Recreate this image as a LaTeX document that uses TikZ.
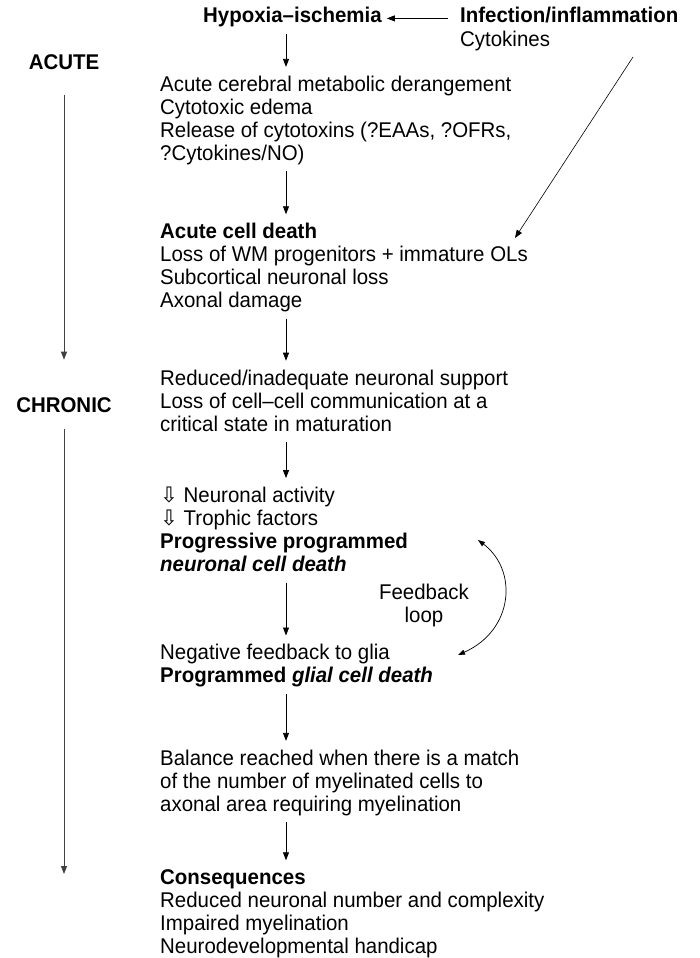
\documentclass[tikz,border=0pt]{standalone}
\usepackage{fontspec}
\setmainfont[FakeStretch=0.96]{Liberation Sans}
\newfontfamily\symfont{DejaVu Sans}
\usetikzlibrary{arrows.meta, positioning}

\newcommand{\hollowdown}{{\symfont\char"21E9}}

\begin{document}
\begin{tikzpicture}[
    x=1pt, y=-1pt,
    node distance=50pt,
    txt/.style={inner sep=0pt, anchor=north west, align=left,
                font=\fontsize{21.3}{23}\selectfont},
    head/.style={inner sep=0pt, anchor=base, font=\fontsize{21.3}{23}\selectfont\bfseries},
    arrow/.style={-{Triangle[length=8pt, width=6pt]}, line width=0.8pt,
                  shorten <=4pt, shorten >=8pt},
    timeline/.style={-{Triangle[length=8pt, width=6pt]}, line width=0.8pt, draw=black!75},
    loopline/.style={{Triangle[length=7pt, width=5pt]}-{Triangle[length=7pt, width=5pt]},
                     line width=0.7pt}
]
\useasboundingbox (0,0) rectangle (700,958);

% axis of the main column
\coordinate (ax) at (286,0);

% top causes
\node[head, anchor=base west] (hyp) at (203,23) {\strut Hypoxia--ischemia};
\node[head, anchor=base west] (inf) at (460,23) {\strut Infection/inflammation};
\node[txt, below=0pt of inf.south west, anchor=north west] (cyt) {\strut Cytokines\strut};

% stages
\node[head] (acute) at (64,70) {\strut ACUTE};
\node[head] (chronic) at (64,412) {\strut CHRONIC};

% main column
\node[txt] (b1) at (160,74.9) {\strut Acute cerebral metabolic derangement\\
    Cytotoxic edema\\
    Release of cytotoxins (?EAAs, ?OFRs,\\
    ?Cytokines/NO)\strut};
\node[txt, below=55pt of b1.south west, anchor=north west] (b2) {\strut\textbf{Acute cell death}\\
    Loss of WM progenitors + immature OLs\\
    Subcortical neuronal loss\\
    Axonal damage\strut};
\node[txt, below=54pt of b2.south west, anchor=north west] (b3) {\strut Reduced/inadequate neuronal support\\
    Loss of cell--cell communication at a\\
    critical state in maturation\strut};
\node[txt, below=48pt of b3.south west, anchor=north west] (b4) {\strut\hollowdown{} Neuronal activity\\
    \hollowdown{} Trophic factors\\
    \textbf{Progressive programmed}\\
    \textbf{\textit{neuronal cell death}}\strut};
\node[txt, below=65pt of b4.south west, anchor=north west] (b5) {\strut Negative feedback to glia\\
    \textbf{Programmed \textit{glial cell death}}\strut};
\node[txt, below=59pt of b5.south west, anchor=north west] (b6) {\strut Balance reached when there is a match\\
    of the number of myelinated cells to\\
    axonal area requiring myelination\strut};
\node[txt, below=50pt of b6.south west, anchor=north west] (b7) {\strut\textbf{Consequences}\\
    Reduced neuronal number and complexity\\
    Impaired myelination\\
    Neurodevelopmental handicap\strut};

% feedback loop
\node[txt, anchor=north, align=center] (fb) at (424,583.2) {\strut Feedback\\loop\strut};
\coordinate (fbtop) at (478,540);
\coordinate (fbbot) at (458,655);

% free ends
\coordinate (infl) at (633,57);
\coordinate (olhit) at (515,238);
\coordinate (tend) at (64,874);

\draw[arrow, shorten <=12pt, shorten >=5pt] (inf.west) -- (hyp.east);
\draw[arrow] (hyp.south -| ax) -- (b1.north -| ax);
\draw[arrow] (b1.south -| ax) -- (b2.north -| ax);
\draw[arrow] (b2.south -| ax) -- (b3.north -| ax);
\draw[arrow] (b3.south -| ax) -- (b4.north -| ax);
\draw[arrow] (b4.south -| ax) -- (b5.north -| ax);
\draw[arrow] (b5.south -| ax) -- (b6.north -| ax);
\draw[arrow] (b6.south -| ax) -- (b7.north -| ax);
\draw[arrow, line width=0.6pt, shorten <=0pt, shorten >=0pt] (infl) -- (olhit);

\draw[timeline, shorten <=18pt, shorten >=36pt] (acute) -- (chronic);
\draw[timeline, shorten <=10pt] (chronic) -- (tend);

\draw[loopline] (fbtop) .. controls (518,570) and (514,630) .. (fbbot);
\end{tikzpicture}
\end{document}
